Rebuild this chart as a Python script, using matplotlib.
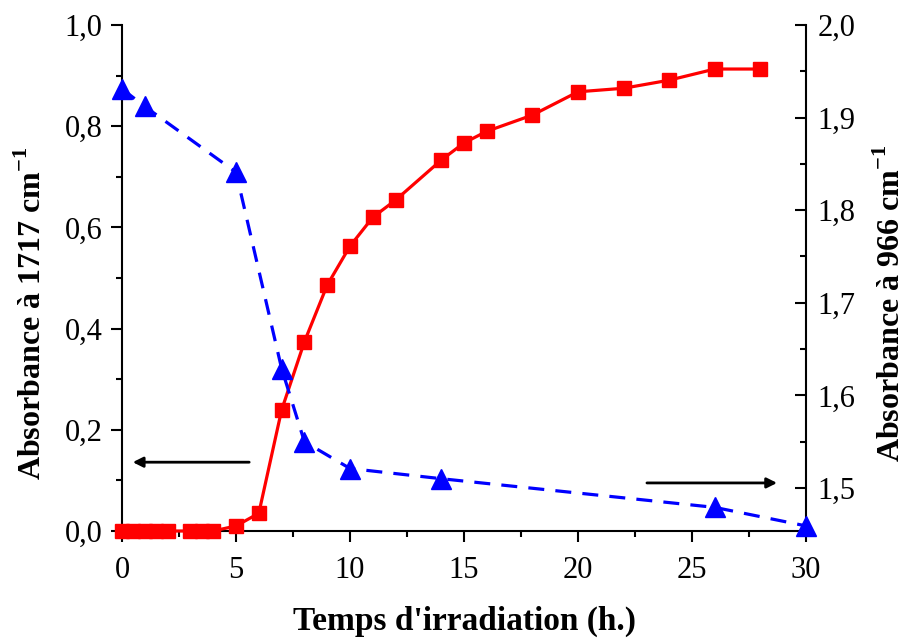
import matplotlib
matplotlib.use('Agg')
import matplotlib.pyplot as plt
from matplotlib.ticker import MultipleLocator, FuncFormatter

# Absorbance at 1717 cm-1 (left axis)
t_1717 = [0, 0.5, 1, 1.5, 2, 3, 3.5, 4, 5, 6, 7, 8, 9, 10, 11, 12, 14, 15, 16, 18, 20, 22, 24, 26, 28]
a_1717 = [0.0, 0.0, 0.0, 0.0, 0.0, 0.0, 0.0, 0.0, 0.01, 0.035, 0.239, 0.374, 0.486, 0.563, 0.62,
          0.654, 0.733, 0.767, 0.79, 0.822, 0.868, 0.875, 0.891, 0.913, 0.913]

# Absorbance at 966 cm-1 (right axis)
t_966 = [0, 1, 5, 7, 8, 10, 14, 26, 30]
a_966 = [1.931, 1.912, 1.841, 1.629, 1.55, 1.521, 1.510, 1.479, 1.459]

plt.rcParams['font.family'] = ['Liberation Serif', 'DejaVu Serif']
plt.rcParams['mathtext.fontset'] = 'custom'
plt.rcParams['mathtext.rm'] = 'Liberation Serif'
plt.rcParams['mathtext.bf'] = 'Liberation Serif:bold'

comma = FuncFormatter(lambda v, p: ('%.1f' % v).replace('.', ','))

fig = plt.figure(figsize=(9.07, 6.38), dpi=100)
ax = fig.add_axes([0.1345, 0.1677, 0.7542, 0.7931])
ax2 = ax.twinx()

ax.plot(t_1717, a_1717, color='red', lw=2.3, marker='s', ms=9.5, zorder=3)
ax2.plot(t_966, a_966, color='blue', lw=2.3, ls=(0, (5, 3.5)), marker='^', ms=14, zorder=3)

ax.set_xlim(0, 30)
ax.set_ylim(0, 1.0)
ax2.set_ylim(1.4535, 2.0)

ax.xaxis.set_major_locator(MultipleLocator(5))
ax.xaxis.set_minor_locator(MultipleLocator(2.5))
ax.yaxis.set_major_locator(MultipleLocator(0.2))
ax.yaxis.set_minor_locator(MultipleLocator(0.1))
ax2.yaxis.set_major_locator(MultipleLocator(0.1))
ax2.yaxis.set_minor_locator(MultipleLocator(0.05))
ax.yaxis.set_major_formatter(comma)
ax2.yaxis.set_major_formatter(comma)

for a in (ax, ax2):
    a.spines['top'].set_visible(False)
    for s in a.spines.values():
        s.set_linewidth(1.5)
ax.spines['right'].set_visible(False)
ax2.spines['left'].set_visible(False)
ax2.spines['bottom'].set_visible(False)

ax.tick_params(axis='both', which='major', direction='out', length=8, width=1.5, labelsize=22, pad=6)
ax.tick_params(axis='x', which='major', pad=10)
ax.tick_params(axis='both', which='minor', direction='out', length=4, width=1.5)
ax2.tick_params(axis='y', which='major', direction='in', length=8, width=1.5, labelsize=22, pad=8)
ax2.tick_params(axis='y', which='minor', direction='in', length=4, width=1.5)

ax.set_xlabel("Temps d'irradiation (h.)", fontsize=24, fontweight='bold', labelpad=15)
ax.set_ylabel(r'Absorbance à 1717 cm$^{\mathbf{-1}}$', fontsize=23, fontweight='bold')
ax2.set_ylabel(r'Absorbance à 966 cm$^{\mathbf{-1}}$', fontsize=23, fontweight='bold')
ax.yaxis.set_label_coords(-0.108, 0.43)
ax2.yaxis.set_label_coords(1.102, 0.45)

ax.annotate('', xy=(0.35, 0.136), xytext=(5.7, 0.136),
            arrowprops=dict(arrowstyle='-|>', color='black', lw=2, mutation_scale=15))
ax.annotate('', xy=(28.85, 0.095), xytext=(22.9, 0.095),
            arrowprops=dict(arrowstyle='-|>', color='black', lw=2, mutation_scale=15))

for line in ax.lines + ax2.lines:
    line.set_clip_on(False)

fig.savefig('out.png', dpi=100)
